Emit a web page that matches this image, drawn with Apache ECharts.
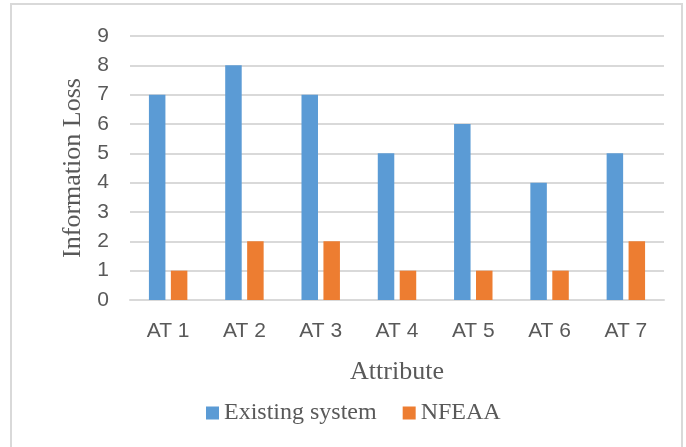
<!DOCTYPE html>
<html>
<head>
<meta charset="utf-8">
<script src="https://cdn.jsdelivr.net/npm/echarts@6/dist/echarts.min.js"></script>
<style>
html,body{margin:0;padding:0;background:#fff;}
#chart{width:686px;height:447px;}
</style>
</head>
<body>
<div id="chart"></div>
<script>
var categories = ['AT 1', 'AT 2', 'AT 3', 'AT 4', 'AT 5', 'AT 6', 'AT 7'];
var existingSystem = [7, 8, 7, 5, 6, 4, 5];
var nfeaa = [1, 2, 2, 1, 1, 1, 2];

var myChart = echarts.init(document.getElementById("chart"));
var serif = "'Liberation Serif','Times New Roman',serif";
var sans = "'Liberation Sans',Arial,sans-serif";

var option = {
    animation: false,
    graphic: [{
        type: 'rect',
        shape: {x: 11, y: 4, width: 671, height: 460},
        style: {fill: 'none', stroke: '#D9D9D9', lineWidth: 2}
    }],
    grid: {left: 130, right: 22, top: 36, bottom: 147},
    legend: {
        bottom: 17,
        left: 201,
        itemWidth: 13,
        itemHeight: 13,
        itemGap: 26,
        icon: 'rect',
        textStyle: {fontFamily: serif, fontSize: 24, color: '#595959'},
        data: ['Existing system', 'NFEAA']
    },
    xAxis: {
        type: 'category',
        data: categories,
        name: 'Attribute',
        nameLocation: 'middle',
        nameGap: 59,
        nameTextStyle: {fontFamily: serif, fontSize: 26, color: '#595959'},
        axisLine: {lineStyle: {color: '#D9D9D9', width: 2}},
        axisTick: {show: false},
        axisLabel: {fontFamily: sans, fontSize: 21, color: '#595959', margin: 21}
    },
    yAxis: {
        type: 'value',
        min: 0,
        max: 9,
        interval: 1,
        name: 'Information Loss',
        nameLocation: 'middle',
        nameGap: 43,
        nameTextStyle: {fontFamily: serif, fontSize: 26, color: '#595959'},
        axisLine: {show: false},
        axisTick: {show: false},
        axisLabel: {fontFamily: sans, fontSize: 21, color: '#595959', margin: 21},
        splitLine: {lineStyle: {color: '#D9D9D9', width: 2}}
    },
    series: [
        {
            name: 'Existing system',
            type: 'bar',
            data: existingSystem,
            barWidth: 16.5,
            barGap: '33%',
            itemStyle: {color: '#5B9BD5'}
        },
        {
            name: 'NFEAA',
            type: 'bar',
            data: nfeaa,
            barWidth: 16.5,
            barGap: '33%',
            itemStyle: {color: '#ED7D31'}
        }
    ]
};
myChart.setOption(option);
</script>
</body>
</html>
